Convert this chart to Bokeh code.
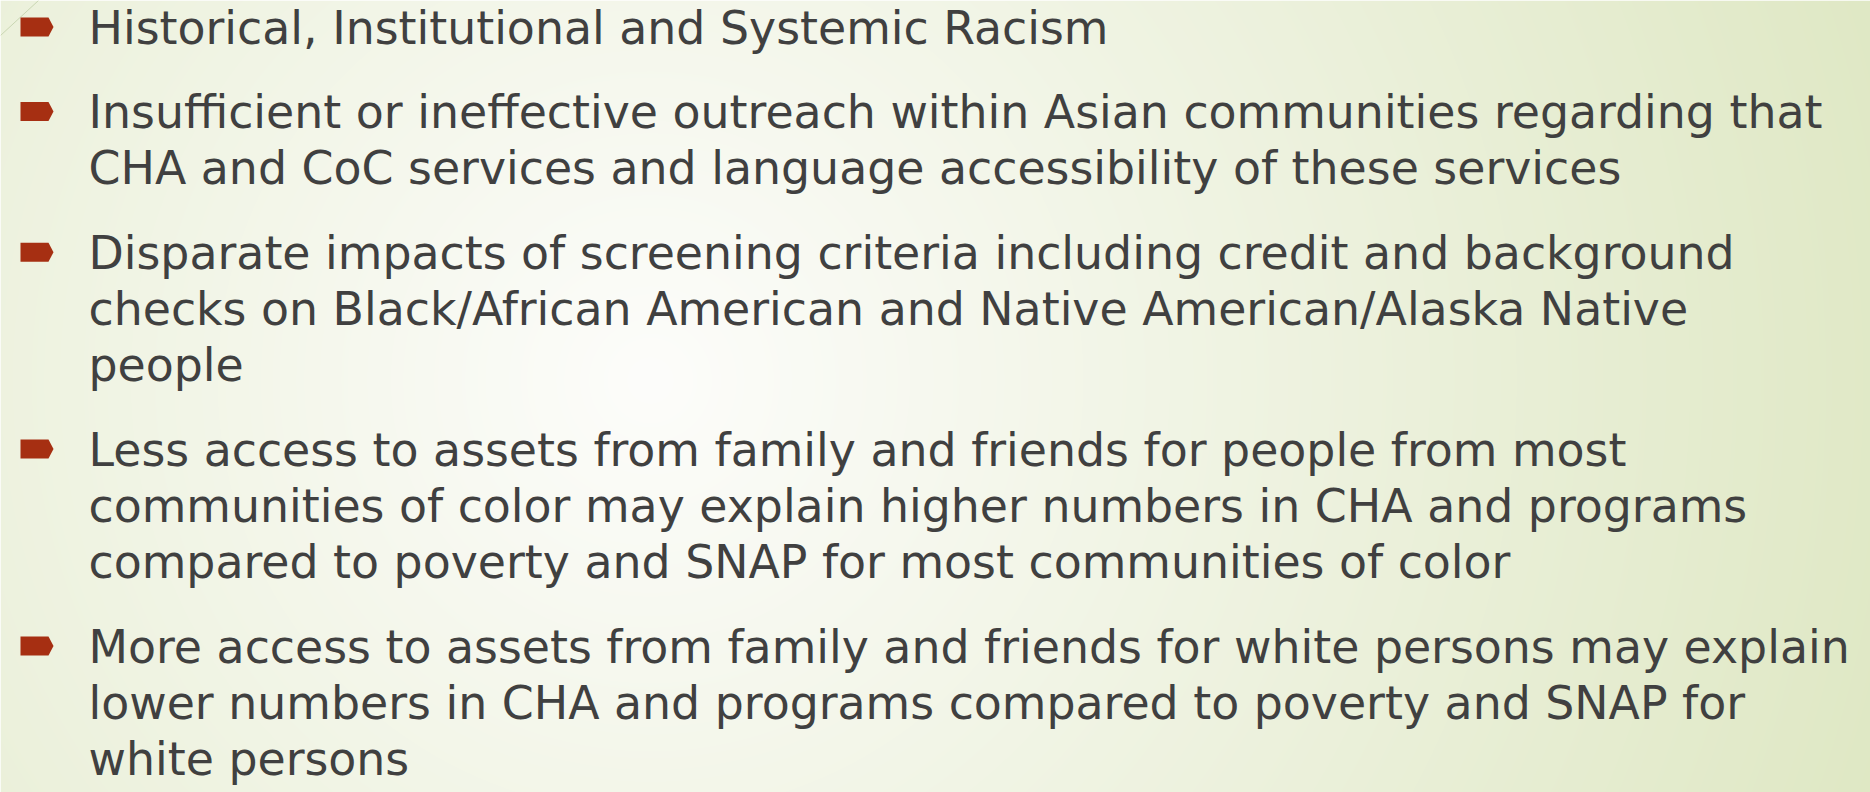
import numpy as np
from bokeh.plotting import figure
from bokeh.models import Range1d, ColumnDataSource
from bokeh.core.properties import value
from bokeh.embed import file_html
from bokeh.resources import INLINE

# ---- content ----
paragraphs = [
    ["Historical, Institutional and Systemic Racism"],
    ["Insufficient or ineffective outreach within Asian communities regarding that",
     "CHA and CoC services and language accessibility of these services"],
    ["Disparate impacts of screening criteria including credit and background",
     "checks on Black/African American and Native American/Alaska Native",
     "people"],
    ["Less access to assets from family and friends for people from most",
     "communities of color may explain higher numbers in CHA and programs",
     "compared to poverty and SNAP for most communities of color"],
    ["More access to assets from family and friends for white persons may explain",
     "lower numbers in CHA and programs compared to poverty and SNAP for",
     "white persons"],
]

# ---- layout (screen px of the 1870x792 window) ----
W, H = 1870, 792
OFF = 0
TEXT_X = 88
FIRST_BASE = 45
LINE_GAP = 56.2
PARA_GAP = 84.5
TEXT_SHIFT = 18      # renderer places the baseline this much lower
FONT = "DejaVu Sans"
FONT_SIZE = "45.8px"
TEXT_COLOR = "#404040"
BULLET_COLOR = "#a62f12"

def fx(X):
    return X - OFF

def fy(Y):
    return (H + OFF) - Y

p = figure(width=W, height=H, output_backend="svg", toolbar_location=None,
           x_range=Range1d(0, W), y_range=Range1d(0, H), min_border=0)
p.axis.visible = False
p.grid.visible = False
p.outline_line_color = None
p.background_fill_color = "white"
p.border_fill_color = "white"

# background radial gradient
cols = np.arange(W) + 0.5 + OFF
rows = np.arange(H) + 0.5
Ys = (H + OFF) - rows
XX, YY = np.meshgrid(cols, Ys)
d = np.sqrt((XX - 650.0) ** 2 + (YY - 380.0) ** 2)
t = np.clip(d / 1300.0, 0, 1)
inner = np.array([253, 253, 251], dtype=float)
outer = np.array([223, 232, 196], dtype=float)
img = np.empty((H, W), dtype=np.uint32)
view = img.view(dtype=np.uint8).reshape((H, W, 4))
for k in range(3):
    view[:, :, k] = (inner[k] + (outer[k] - inner[k]) * t).astype(np.uint8)
view[:, :, 3] = 255
p.image_rgba(image=[img], x=0, y=0, dw=W, dh=H)

# corner decoration line
p.line(x=[fx(0), fx(38)], y=[fy(35), fy(0)], line_color="#c9d6b2", line_width=1)

# text lines and bullets
tx, ty, tt = [], [], []
bxs, bys = [], []
base = FIRST_BASE
for para in paragraphs:
    b = base
    bxs.append([fx(20), fx(48), fx(53), fx(48), fx(20)])
    bys.append([fy(b - 28), fy(b - 28), fy(b - 18.5), fy(b - 9), fy(b - 9)])
    for line in para:
        tx.append(fx(TEXT_X))
        ty.append(fy(base - TEXT_SHIFT))
        tt.append(line)
        base += LINE_GAP
    base += PARA_GAP - LINE_GAP

p.patches(xs=bxs, ys=bys, fill_color=BULLET_COLOR, line_color=None)
src = ColumnDataSource(dict(x=tx, y=ty, text=tt))
p.text(x="x", y="y", text="text", source=src, text_font=value(FONT),
       text_font_size=FONT_SIZE, text_color=TEXT_COLOR,
       text_baseline="alphabetic", text_align="left")

open("out.html", "w").write(file_html(p, INLINE))
